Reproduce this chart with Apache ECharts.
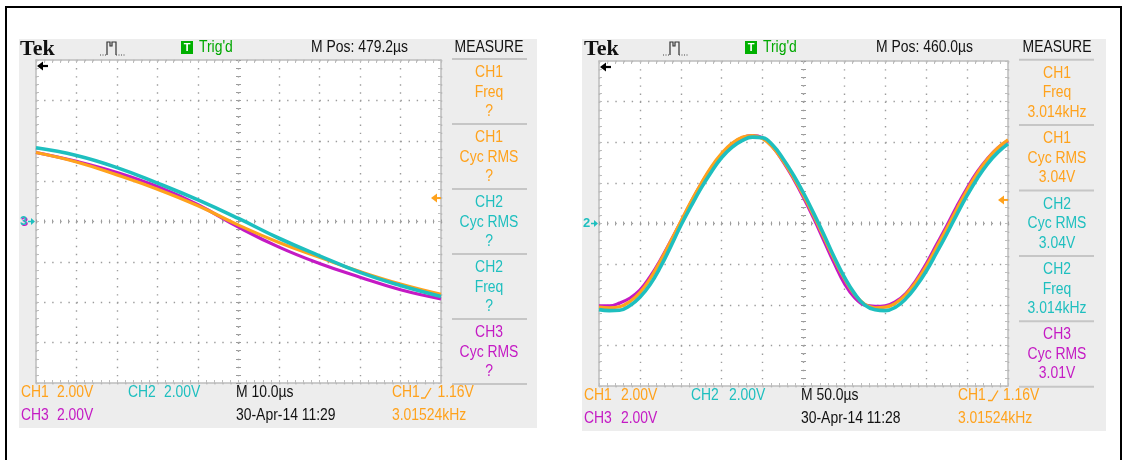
<!DOCTYPE html>
<html><head><meta charset="utf-8">
<script src="https://cdn.jsdelivr.net/npm/echarts@6/dist/echarts.min.js"></script>
<style>html,body{margin:0;padding:0;background:#fff}#c{width:1126px;height:460px}</style>
</head><body><div id="c"></div>
<script>
// ---------- data ----------
// Left screen: 10 us/div, 2 V/div
const leftTime = [0, 10, 20, 30, 40, 50, 60, 70, 80, 90, 100];
const leftCH1  = [3.42, 2.95, 2.31, 1.60, 0.78, -0.18, -1.04, -1.77, -2.48, -3.10, -3.61];
const leftCH2  = [3.65, 3.27, 2.67, 1.90, 1.07, 0.15, -0.83, -1.70, -2.52, -3.17, -3.71];
const leftCH3  = [3.42, 2.98, 2.43, 1.73, 0.83, -0.28, -1.27, -2.08, -2.76, -3.38, -3.83];
// Right screen: 50 us/div, 2 V/div
const rightTime = [0, 12.5, 25, 37.5, 50, 62.5, 75, 87.5, 100, 112.5, 125, 137.5, 150, 162.5, 175, 187.5, 200,
  212.5, 225, 237.5, 250, 262.5, 275, 287.5, 300, 312.5, 325, 337.5, 350, 362.5, 375, 387.5, 400,
  412.5, 425, 437.5, 450, 462.5, 475, 487.5, 500];
const rightCH1 = [-4.12, -4.15, -4.10, -3.85, -3.40, -2.72, -1.85, -0.88, 0.10, 1.08, 1.98, 2.80, 3.45, 3.95, 4.25, 4.33, 4.18,
  3.75, 3.08, 2.28, 1.38, 0.38, -0.68, -1.75, -2.72, -3.50, -3.98, -4.15, -4.12, -3.92, -3.50, -2.88, -2.10,
  -1.18, -0.25, 0.72, 1.65, 2.48, 3.18, 3.72, 4.12];
const rightCH2 = [-4.24, -4.29, -4.27, -4.05, -3.63, -3.00, -2.15, -1.15, -0.10, 0.85, 1.75, 2.55, 3.25, 3.75, 4.08, 4.25, 4.22,
  3.85, 3.19, 2.40, 1.50, 0.50, -0.55, -1.65, -2.64, -3.45, -4.02, -4.25, -4.29, -4.12, -3.71, -3.10, -2.35,
  -1.45, -0.52, 0.45, 1.38, 2.22, 2.94, 3.50, 3.92];
const rightCH3 = [-4.05, -4.05, -3.92, -3.68, -3.28, -2.62, -1.80, -0.88, 0.08, 1.05, 1.95, 2.75, 3.40, 3.92, 4.22, 4.33, 4.22,
  3.75, 3.05, 2.22, 1.28, 0.25, -0.85, -1.95, -2.95, -3.65, -4.02, -4.08, -4.05, -3.85, -3.45, -2.80, -1.98,
  -1.05, -0.12, 0.85, 1.75, 2.55, 3.20, 3.72, 4.08];
// Text content
const measureChannels = ['CH1', 'CH1', 'CH2', 'CH2', 'CH3'];
const measureNames = ['Freq', 'Cyc RMS', 'Cyc RMS', 'Freq', 'Cyc RMS'];
const leftMeasureValues = ['?', '?', '?', '?', '?'];
const rightMeasureValues = ['3.014kHz', '3.04V', '3.04V', '3.014kHz', '3.01V'];
const mPosLabels = ['M Pos: 479.2µs', 'M Pos: 460.0µs'];
const timebaseLabels = ['M 10.0µs', 'M 50.0µs'];
const dateLabels = ['30-Apr-14 11:29', '30-Apr-14 11:28'];
const chScaleLabels = ['2.00V', '2.00V', '2.00V'];
const triggerLevel = 1.16;
const triggerLabel = '1.16V';
const triggerFreqLabel = '3.01524kHz';
const groundMarkers = ['3', '2'];
const xMaxes = [100, 500];
const xIntervals = [10, 50];

// ---------- styles ----------
const COL = {CH1: '#FFA21C', CH2: '#1EBFBF', CH3: '#C41AC4'};
const PANEL = '#EDEDED', DOT = '#9C9C9C', EDGE = '#BDBDBD', SEP = '#C6C6C6';
const FONT = '16px "Liberation Sans", Arial, sans-serif';
const SX = 0.87;

// layout of each screen (pixels)
const L = [
  {px: 19, py: 39, pw: 518, ph: 389, gx: 36, gy: 60, gw: 405, gh: 323,
   tek: 20, pulse: 100, tbox: 181, trig: 199, mpos: 311, meas: 489, sepL: 452, sepR: 527,
   sep0: 59, sepStep: 65.0, row1: 393, row2: 416,
   b: {ch1: 21, v1: 57, ch2: 128, v2: 164, mt: 236, tr: 392, sym: 421, tv: 437.5}},
  {px: 582, py: 39, pw: 524, ph: 392, gx: 599, gy: 61, gw: 409, gh: 325,
   tek: 584, pulse: 663, tbox: 745, trig: 763, mpos: 876, meas: 1057, sepL: 1019, sepR: 1094,
   sep0: 59.7, sepStep: 65.4, row1: 395.5, row2: 418.5,
   b: {ch1: 584, v1: 621, ch2: 691, v2: 729, mt: 801, tr: 958, sym: 988, tv: 1003}}
];

function txt(x, y, s, color, o) {
  o = o || {};
  return {type: 'text', x: x, y: y, scaleX: o.sx == null ? SX : o.sx, z: 10, silent: true,
    style: {text: s, x: 0, y: 0, fill: color, font: o.font || FONT, align: o.align || 'left', verticalAlign: 'middle'}};
}
function line(x1, y1, x2, y2, color, w, dash) {
  return {type: 'line', z: 10, silent: true, shape: {x1: x1, y1: y1, x2: x2, y2: y2},
    style: {stroke: color, lineWidth: w, lineDash: dash || null}};
}

const grids = [], xAxes = [], yAxes = [], series = [], gfx = [];

// outer frame
gfx.push({type: 'rect', z: 0, silent: true, shape: {x: 6, y: 7, width: 1115, height: 470},
  style: {fill: '#fff', stroke: '#000', lineWidth: 2}});

L.forEach(function (p, i) {
  gfx.push({type: 'rect', z: 1, silent: true, shape: {x: p.px, y: p.py, width: p.pw, height: p.ph}, style: {fill: PANEL}});
  gfx.push({type: 'rect', z: 1, silent: true, shape: {x: p.gx, y: p.gy, width: p.gw, height: p.gh}, style: {fill: '#fff'}});

  grids.push({left: p.gx, top: p.gy, width: p.gw, height: p.gh, containLabel: false, show: false});
  const dx = p.gw / 50, dy = p.gh / 40;
  const tick = {color: EDGE, width: 1};
  const ctick = {color: DOT, width: 1};
  const base = {gridIndex: i, type: 'value', min: 0, max: xMaxes[i], interval: xIntervals[i], axisLabel: {show: false}, z: 5, silent: true};
  xAxes.push(Object.assign({}, base, {position: 'bottom',
    axisLine: {show: true, onZero: false, lineStyle: {color: EDGE, width: 1.5}},
    axisTick: {show: true, inside: true, length: 3, lineStyle: tick},
    minorTick: {show: true, splitNumber: 5, length: 3, lineStyle: tick},
    splitLine: {show: true, lineStyle: {color: DOT, width: 1.4, type: [1.4, dy - 1.4]}}}));
  xAxes.push(Object.assign({}, base, {position: 'top',
    axisLine: {show: true, onZero: false, lineStyle: {color: EDGE, width: 1.5}},
    axisTick: {show: true, inside: true, length: 3, lineStyle: tick},
    minorTick: {show: true, splitNumber: 5, length: 3, lineStyle: tick},
    splitLine: {show: false}}));
  [true, false].forEach(function (ins) {
    xAxes.push(Object.assign({}, base, {position: 'bottom', offset: -p.gh / 2,
      axisLine: {show: false, onZero: false},
      axisTick: {show: true, inside: ins, length: 2, lineStyle: ctick},
      minorTick: {show: true, splitNumber: 5, length: 2, lineStyle: ctick},
      splitLine: {show: false}}));
  });
  const ybase = {gridIndex: i, type: 'value', min: -8, max: 8, interval: 2, axisLabel: {show: false}, z: 5, silent: true};
  yAxes.push(Object.assign({}, ybase, {position: 'left',
    axisLine: {show: true, onZero: false, lineStyle: {color: EDGE, width: 1.5}},
    axisTick: {show: true, inside: true, length: 3, lineStyle: tick},
    minorTick: {show: true, splitNumber: 5, length: 3, lineStyle: tick},
    splitLine: {show: true, lineStyle: {color: DOT, width: 1.4, type: [1.4, dx - 1.4]}}}));
  yAxes.push(Object.assign({}, ybase, {position: 'right',
    axisLine: {show: true, onZero: false, lineStyle: {color: EDGE, width: 1.5}},
    axisTick: {show: true, inside: true, length: 3, lineStyle: tick},
    minorTick: {show: true, splitNumber: 5, length: 3, lineStyle: tick},
    splitLine: {show: false}}));
  [true, false].forEach(function (ins) {
    yAxes.push(Object.assign({}, ybase, {position: 'left', offset: -p.gw / 2,
      axisLine: {show: false, onZero: false},
      axisTick: {show: true, inside: ins, length: 2.5, lineStyle: ctick},
      minorTick: {show: true, splitNumber: 5, length: 2.5, lineStyle: ctick},
      splitLine: {show: false}}));
  });

  // traces
  const t = i === 0 ? leftTime : rightTime;
  const chans = i === 0 ? [['CH3', leftCH3], ['CH1', leftCH1], ['CH2', leftCH2]]
                        : [['CH3', rightCH3], ['CH1', rightCH1], ['CH2', rightCH2]];
  chans.forEach(function (c, k) {
    series.push({type: 'line', name: c[0], xAxisIndex: i * 4, yAxisIndex: i * 4,
      data: t.map(function (tt, j) { return [tt, c[1][j]]; }),
      smooth: 0.45, showSymbol: false, silent: true, clip: true, z: 6 + k,
      lineStyle: {color: COL[c[0]], width: c[0] === 'CH2' ? 3.6 : 3.2}});
  });

  // header
  gfx.push(txt(p.tek, 49, 'Tek', '#111', {font: 'bold 22px "Liberation Serif", "Times New Roman", serif', sx: 1}));
  gfx.push(line(p.pulse, 55, p.pulse + 7, 55, '#444', 1, [1, 1.5]));
  gfx.push({type: 'polyline', z: 10, silent: true,
    shape: {points: [[p.pulse + 7, 55], [p.pulse + 7, 42], [p.pulse + 10, 42], [p.pulse + 10, 46], [p.pulse + 12, 46], [p.pulse + 12, 42], [p.pulse + 16, 42], [p.pulse + 16, 55]]},
    style: {stroke: '#333', lineWidth: 1.2, fill: null}});
  gfx.push(line(p.pulse + 16, 55, p.pulse + 26, 55, '#444', 1, [1, 1.5]));
  gfx.push({type: 'rect', z: 10, silent: true, shape: {x: p.tbox, y: 41, width: 12, height: 13}, style: {fill: '#00B000'}});
  gfx.push(txt(p.tbox + 6, 48, 'T', '#fff', {font: 'bold 11px "Liberation Sans", Arial, sans-serif', sx: 1, align: 'center'}));
  gfx.push(txt(p.trig, 48, "Trig'd", '#00A800'));
  gfx.push(txt(p.mpos, 48, mPosLabels[i], '#111'));
  gfx.push(txt(p.meas, 48, 'MEASURE', '#111', {align: 'center'}));

  // measure column
  const vals = i === 0 ? leftMeasureValues : rightMeasureValues;
  for (let k = 0; k < 6; k++) {
    const sy = p.sep0 + k * p.sepStep;
    gfx.push(line(p.sepL, sy, p.sepR, sy, SEP, 2));
    if (k < 5) {
      const c = COL[measureChannels[k]];
      gfx.push(txt(p.meas, sy + 13.7, measureChannels[k], c, {align: 'center'}));
      gfx.push(txt(p.meas, sy + 33.3, measureNames[k], c, {align: 'center'}));
      gfx.push(txt(p.meas, sy + 52.7, vals[k], c, {align: 'center'}));
    }
  }

  // left arrow at top-left of screen
  gfx.push({type: 'polygon', z: 10, silent: true, shape: {points: [[p.gx + 1, p.gy + 6], [p.gx + 7, p.gy + 1.5], [p.gx + 7, p.gy + 10.5]]}, style: {fill: '#000'}});
  gfx.push(line(p.gx + 6, p.gy + 6, p.gx + 12, p.gy + 6, '#000', 2.2));

  // ground marker
  const cy = p.gy + p.gh / 2;
  const mfont = 'bold 13px "Liberation Sans", Arial, sans-serif';
  if (i === 0) {
    gfx.push(txt(p.gx - 15, cy + 0.5, groundMarkers[i], COL.CH3, {font: mfont, sx: 1}));
  }
  gfx.push(txt(p.gx - 16, cy, groundMarkers[i], COL.CH2, {font: mfont, sx: 1}));
  gfx.push({type: 'polygon', z: 10, silent: true, shape: {points: [[p.gx - 1, cy], [p.gx - 5, cy - 3.5], [p.gx - 5, cy + 3.5]]}, style: {fill: COL.CH2}});
  gfx.push(line(p.gx - 8, cy, p.gx - 4, cy, COL.CH2, 1.5));

  // trigger level arrow (right edge)
  const ty = cy - triggerLevel / 2 * (p.gh / 8);
  const rx = p.gx + p.gw;
  gfx.push({type: 'polygon', z: 10, silent: true, shape: {points: [[rx - 10, ty], [rx - 4, ty - 4.5], [rx - 4, ty + 4.5]]}, style: {fill: COL.CH1}});
  gfx.push(line(rx - 5, ty, rx, ty, COL.CH1, 2));

  // bottom status lines
  const b = p.b;
  gfx.push(txt(b.ch1, p.row1, 'CH1', COL.CH1));
  gfx.push(txt(b.v1, p.row1, chScaleLabels[0], COL.CH1));
  gfx.push(txt(b.ch2, p.row1, 'CH2', COL.CH2));
  gfx.push(txt(b.v2, p.row1, chScaleLabels[1], COL.CH2));
  gfx.push(txt(b.mt, p.row1, timebaseLabels[i], '#111'));
  gfx.push(txt(b.tr, p.row1, 'CH1', COL.CH1));
  gfx.push({type: 'polyline', z: 10, silent: true,
    shape: {points: [[b.sym, p.row1 + 5], [b.sym + 4, p.row1 + 5], [b.sym + 10, p.row1 - 5]]},
    style: {stroke: COL.CH1, lineWidth: 1.3, fill: null}});
  gfx.push(txt(b.tv, p.row1, triggerLabel, COL.CH1));
  gfx.push(txt(b.ch1, p.row2, 'CH3', COL.CH3));
  gfx.push(txt(b.v1, p.row2, chScaleLabels[2], COL.CH3));
  gfx.push(txt(b.mt, p.row2, dateLabels[i], '#111'));
  gfx.push(txt(b.tr, p.row2, triggerFreqLabel, COL.CH1));
});

const chart = echarts.init(document.getElementById('c'), null, {renderer: 'canvas'});
chart.setOption({
  animation: false,
  backgroundColor: '#fff',
  grid: grids,
  xAxis: xAxes,
  yAxis: yAxes,
  series: series,
  graphic: {elements: gfx}
});
</script>
</body></html>
